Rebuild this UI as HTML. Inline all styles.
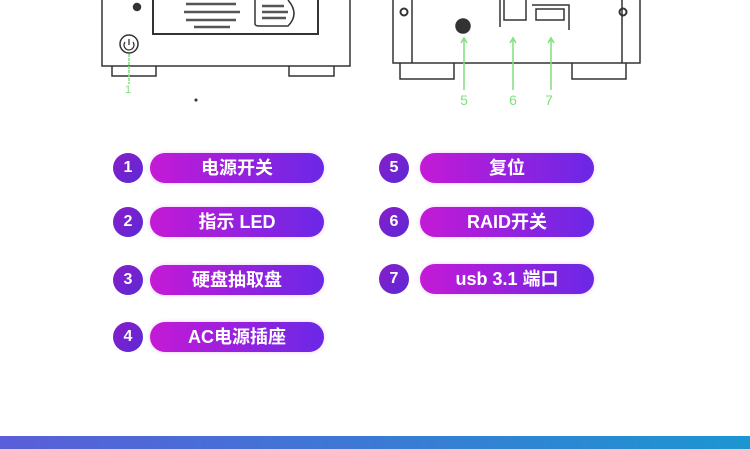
<!DOCTYPE html>
<html><head><meta charset="utf-8"><style>
html,body{margin:0;padding:0;width:750px;height:449px;overflow:hidden;background:#fff;position:relative;font-family:"Liberation Sans","Noto Sans CJK SC",sans-serif}
.c{position:absolute;width:30px;height:30px;border-radius:50%;background:linear-gradient(135deg,#8a1cc8,#5a2ad6);color:#fff;font-size:16px;font-weight:bold;text-align:center;line-height:30px}
.p{position:absolute;width:174px;height:30px;border-radius:15px;background:linear-gradient(90deg,#c41ad6,#6a28e6);color:#fff;font-size:18px;font-weight:bold;text-align:center;line-height:30px;box-shadow:0 0 4px rgba(180,60,220,.25)}
.bar{position:absolute;left:0;top:436px;width:750px;height:13px;background:linear-gradient(90deg,#5a5ed8,#1c96d0)}
</style></head><body>
<svg width="750" height="110" style="position:absolute;left:0;top:0" fill="none" stroke="#333" stroke-width="1.5">
<path d="M102 0 V66 H350 V0"/>
<path d="M112 66 V76 H156 V66 M289 66 V76 H334 V66"/>
<path d="M153 0 V34 H318 V0" stroke-width="2"/>
<path d="M255 0 V24 Q255 26 260 26 H288 Q300 14 288 0" stroke-width="1.5"/>
<g stroke-width="2.5" stroke="#555"><path d="M186 4 H236 M184 12 H240 M186 20 H236 M194 27 H230"/><path d="M262 6 H284 M262 12 H288 M262 18 H286"/></g>
<circle cx="137" cy="7" r="3.5" fill="#333"/>
<circle cx="129" cy="44" r="9"/>
<path d="M129 39 V45 M125 42 A5 5 0 1 0 133 42" stroke-width="1.3"/>
<path d="M129 54 V84" stroke="#7de07d" stroke-dasharray="3 1"/>
<circle cx="196" cy="100" r="0.8" fill="#333"/>
<path d="M393 0 V63 H640 V0"/>
<path d="M412 0 V63 M622 0 V63"/>
<circle cx="404" cy="12" r="3.5" stroke-width="2"/><circle cx="623" cy="12" r="3.5" stroke-width="2"/>
<circle cx="463" cy="26" r="7" fill="#333"/>
<path d="M500 0 V27 M504 0 V20 H526 V0" />
<path d="M532 5 H569 V30 M536 9 H564 V20 H536 Z"/>
<path d="M400 63 V79 H454 V63 M572 63 V79 H626 V63"/>
<g stroke="#7de07d" stroke-width="1.5"><path d="M464 40 V90 M513 40 V90 M551 40 V90"/>
<path d="M461 43 L464 38 L467 43 M510 43 L513 38 L516 43 M548 43 L551 38 L554 43"/></g>
<g fill="#7de07d" font-size="14" stroke="none" font-family="Liberation Sans"><text x="128" y="93" text-anchor="middle" font-size="11">1</text><text x="464" y="105" text-anchor="middle">5</text><text x="513" y="105" text-anchor="middle">6</text><text x="549" y="105" text-anchor="middle">7</text></g>
</svg>
<div class="c" style="left:113px;top:153px">1</div><div class="p" style="left:150px;top:153px">电源开关</div>
<div class="c" style="left:113px;top:207px">2</div><div class="p" style="left:150px;top:207px">指示 LED</div>
<div class="c" style="left:113px;top:265px">3</div><div class="p" style="left:150px;top:265px">硬盘抽取盘</div>
<div class="c" style="left:113px;top:322px">4</div><div class="p" style="left:150px;top:322px">AC电源插座</div>
<div class="c" style="left:379px;top:153px">5</div><div class="p" style="left:420px;top:153px">复位</div>
<div class="c" style="left:379px;top:207px">6</div><div class="p" style="left:420px;top:207px">RAID开关</div>
<div class="c" style="left:379px;top:264px">7</div><div class="p" style="left:420px;top:264px">usb 3.1 端口</div>
<div class="bar"></div>
</body></html>
